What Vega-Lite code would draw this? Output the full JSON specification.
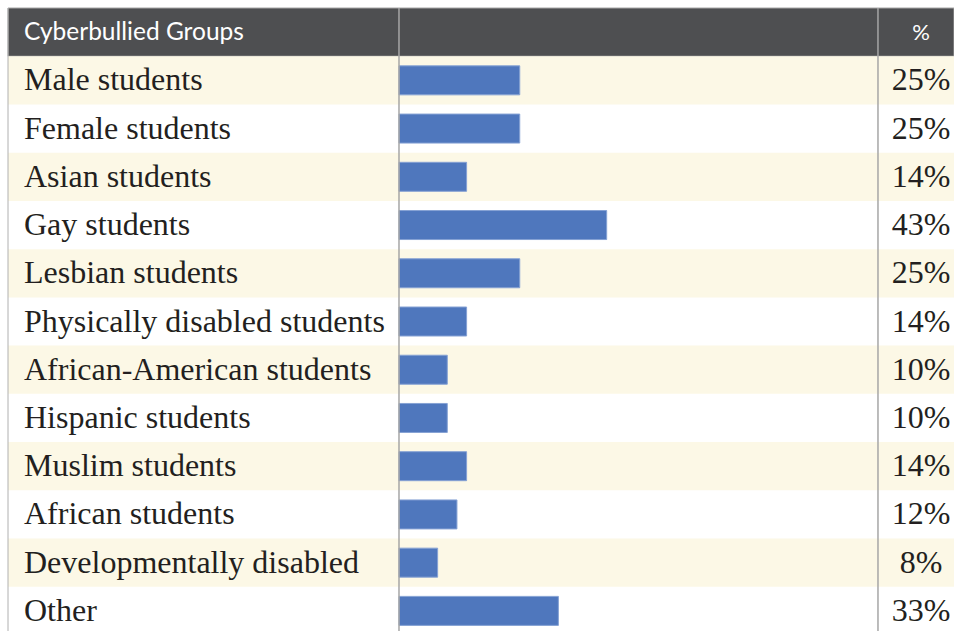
{
  "$schema": "https://vega.github.io/schema/vega-lite/v6.json",
  "padding": {"left": 8, "top": 8, "right": 0, "bottom": 0},
  "autosize": {"type": "none"},
  "background": "white",
  "width": 946,
  "height": 623,
  "config": {"view": {"stroke": null}},
  "datasets": {
    "rows": [
      {"group": "Male students", "pct": 0.25},
      {"group": "Female students", "pct": 0.25},
      {"group": "Asian students", "pct": 0.14},
      {"group": "Gay students", "pct": 0.43},
      {"group": "Lesbian students", "pct": 0.25},
      {"group": "Physically disabled students", "pct": 0.14},
      {"group": "African-American students", "pct": 0.10},
      {"group": "Hispanic students", "pct": 0.10},
      {"group": "Muslim students", "pct": 0.14},
      {"group": "African students", "pct": 0.12},
      {"group": "Developmentally disabled", "pct": 0.08},
      {"group": "Other", "pct": 0.33}
    ],
    "header": [{"group": "Cyberbullied Groups", "pcthead": "%"}],
    "dividers": [{"at": 0}, {"at": 0.9917}],
    "leftedge": [{"at": -0.8095}]
  },
  "layer": [
    {
      "data": {"name": "header"},
      "mark": {"type": "rect", "color": "#4e4f51", "stroke": "#a6a6a6", "strokeWidth": 1},
      "encoding": {
        "y": {
          "field": "group", "type": "nominal", "axis": null,
          "scale": {
            "domain": ["Cyberbullied Groups", "Male students", "Female students", "Asian students", "Gay students", "Lesbian students", "Physically disabled students", "African-American students", "Hispanic students", "Muslim students", "African students", "Developmentally disabled", "Other"],
            "range": [0, 627],
            "paddingInner": 0, "paddingOuter": 0
          }
        },
        "x": {"datum": -0.8095, "type": "quantitative", "scale": {"domain": [-0.8095, 1.1491], "nice": false, "zero": false}, "axis": null},
        "x2": {"datum": 1.1491}
      }
    },
    {
      "data": {"name": "rows"},
      "transform": [
        {"filter": {"field": "group", "oneOf": ["Male students", "Asian students", "Lesbian students", "African-American students", "Muslim students", "Developmentally disabled"]}}
      ],
      "mark": {"type": "rect", "color": "#fcf8e6"},
      "encoding": {
        "y": {"field": "group", "type": "nominal"},
        "x": {"datum": -0.8095, "type": "quantitative"},
        "x2": {"datum": 1.1491}
      }
    },
    {
      "data": {"name": "rows"},
      "mark": {"type": "bar", "color": "#4f77bd", "stroke": "#86a2d4", "strokeWidth": 1, "size": 29},
      "encoding": {
        "y": {"field": "group", "type": "nominal"},
        "x": {"field": "pct", "type": "quantitative"}
      }
    },
    {
      "data": {"name": "rows"},
      "mark": {"type": "text", "align": "left", "baseline": "middle", "font": "Liberation Serif", "fontSize": 32, "color": "#231f20", "dy": 0},
      "encoding": {
        "y": {"field": "group", "type": "nominal"},
        "x": {"datum": -0.7764, "type": "quantitative"},
        "text": {"field": "group", "type": "nominal"}
      }
    },
    {
      "data": {"name": "rows"},
      "mark": {"type": "text", "align": "center", "baseline": "middle", "font": "Liberation Serif", "fontSize": 32, "color": "#231f20", "dy": 0},
      "encoding": {
        "y": {"field": "group", "type": "nominal"},
        "x": {"datum": 1.0808, "type": "quantitative"},
        "text": {"field": "pct", "type": "quantitative", "format": ".0%"}
      }
    },
    {
      "data": {"name": "header"},
      "mark": {"type": "text", "align": "left", "baseline": "middle", "font": "Lato", "fontSize": 24.5, "color": "#ffffff", "dy": 1},
      "encoding": {
        "y": {"field": "group", "type": "nominal"},
        "x": {"datum": -0.7764, "type": "quantitative"},
        "text": {"field": "group", "type": "nominal"}
      }
    },
    {
      "data": {"name": "header"},
      "mark": {"type": "text", "align": "center", "baseline": "middle", "font": "Lato", "fontSize": 22, "color": "#ffffff", "dy": 1},
      "encoding": {
        "y": {"field": "group", "type": "nominal"},
        "x": {"datum": 1.0808, "type": "quantitative"},
        "text": {"field": "pcthead", "type": "nominal"}
      }
    },
    {
      "data": {"name": "dividers"},
      "mark": {"type": "rule", "color": "#a6a6a6", "strokeWidth": 1.5},
      "encoding": {
        "x": {"field": "at", "type": "quantitative"}
      }
    },
    {
      "data": {"name": "leftedge"},
      "mark": {"type": "rule", "color": "#b0b0b0", "strokeWidth": 1},
      "encoding": {
        "x": {"field": "at", "type": "quantitative"}
      }
    }
  ]
}
